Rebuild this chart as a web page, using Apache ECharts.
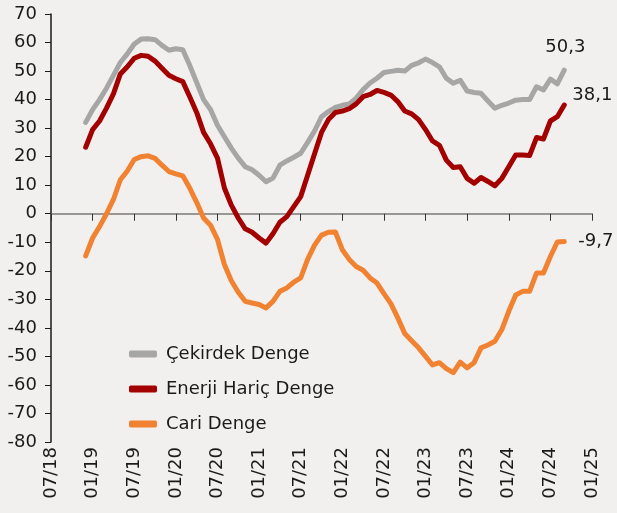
<!DOCTYPE html>
<html>
<head>
<meta charset="utf-8">
<script src="https://cdn.jsdelivr.net/npm/echarts@6/dist/echarts.min.js"></script>
<style>
  html, body { margin: 0; padding: 0; background: #f2f0ef; }
  #chart { width: 617px; height: 513px; }
</style>
</head>
<body>
<div id="chart"></div>
<script>
// monthly axis 07/18 .. 01/25
const months = [];
for (let i = 0; i <= 78; i++) {
  const m = ((6 + i) % 12) + 1;
  const y = 18 + Math.floor((6 + i) / 12);
  months.push(String(m).padStart(2, "0") + "/" + y);
}

// data 12/18 .. 09/24
const lead = 5;
const cekirdek = [32, 36.5, 40, 44, 48.5, 53, 56, 59.5, 61.2, 61.3, 61, 59, 57.3, 57.8, 57.5, 52, 46, 40, 36.5, 31,
  27, 23, 19.5, 16.5, 15.4, 13.5, 11.2, 12.5, 17, 18.5, 19.8, 21.2, 25, 29, 34, 35.8, 37.3, 38, 38.5, 40.5,
  43.5, 45.8, 47.5, 49.5, 49.9, 50.3, 50, 52, 52.9, 54.2, 53, 51.5, 47.5, 45.7, 46.8, 43, 42.5, 42.2, 39.5, 37,
  38, 38.8, 39.8, 40, 40, 44.5, 43.4, 47.2, 45.5, 50.3];
const enerjiHaric = [23.3, 29.5, 32.5, 37, 42, 49, 51.5, 54.5, 55.5, 55.2, 53.5, 51, 48.5, 47.3, 46.3, 41, 35.5, 28.5, 24.5, 19.5,
  9, 3, -1.5, -5.3, -6.5, -8.5, -10.3, -7, -3, -1, 2.5, 6, 13.5, 21, 28.5, 33, 35.5, 36, 36.8, 38.5,
  41, 41.8, 43.2, 42.5, 41.6, 39.3, 36, 35, 33, 29.5, 25.5, 24, 18.8, 16.2, 16.5, 12.4, 10.7, 12.7, 11.3, 9.8,
  12.4, 16.5, 20.6, 20.6, 20.4, 26.7, 26.2, 32.5, 34, 38.1];
const cari = [-14.8, -8.5, -4.5, 0, 5, 11.9, 15, 19, 20, 20.3, 19.4, 17, 14.8, 14, 13.3, 9, 4, -1.5, -4, -9,
  -17.8, -23.5, -27.5, -30.7, -31.3, -31.8, -33, -30.7, -27.2, -26, -24, -22.5, -16, -11, -7.5, -6.5, -6.4, -12.6, -16, -18.5,
  -19.8, -22.5, -24.3, -28, -31.5, -36.5, -42, -44.5, -47, -50, -53, -52.2, -54.3, -55.7, -52, -54, -52.2, -47, -46, -44.7,
  -40.6, -34.2, -28.5, -27.2, -27.2, -20.8, -20.8, -15, -9.9, -9.7];

const pad = arr => Array(lead).fill(null).concat(arr);
const fmt = p => p.value.toFixed(1).replace(".", ",");
const font = "DejaVu Sans";

const chart = echarts.init(document.getElementById("chart"));

function lineSeries(name, data, color, labelOffset) {
  return {
    name: name,
    type: "line",
    data: pad(data),
    showSymbol: false,
    symbol: "none",
    lineStyle: { color: color, width: 5, join: "round", cap: "round" },
    itemStyle: { color: color },
    endLabel: {
      show: true,
      formatter: fmt,
      fontFamily: font,
      fontSize: 18,
      color: "#1a1a1a",
      offset: labelOffset
    }
  };
}

chart.setOption({
  backgroundColor: "#f2f0ef",
  animation: false,
  grid: { left: 51, right: 25, top: 14, bottom: 71 },
  legend: {
    orient: "vertical",
    left: 124,
    top: 340,
    itemWidth: 28,
    itemHeight: 7,
    itemGap: 17,
    icon: "roundRect",
    textStyle: { fontFamily: font, fontSize: 18, color: "#1a1a1a", padding: [0, 0, 0, 4] },
    data: ["Çekirdek Denge", "Enerji Hariç Denge", "Cari Denge"]
  },
  xAxis: [
    {
      type: "category",
      data: months,
      boundaryGap: false,
      axisLine: { onZero: true, lineStyle: { color: "#7a7a7a", width: 1.5 } },
      axisTick: { interval: 5, length: 7, lineStyle: { color: "#333" } },
      axisLabel: { show: false },
      splitLine: { show: false }
    },
    {
      type: "category",
      data: months,
      boundaryGap: false,
      position: "bottom",
      axisLine: { show: false, onZero: false },
      axisTick: { show: false },
      axisLabel: {
        interval: 5,
        rotate: 90,
        margin: 5,
        fontFamily: font,
        fontSize: 18,
        color: "#1a1a1a"
      },
      splitLine: { show: false }
    }
  ],
  yAxis: {
    type: "value",
    min: -80,
    max: 70,
    interval: 10,
    axisLine: { show: true, lineStyle: { color: "#1a1a1a", width: 1.5 } },
    axisTick: { show: true, length: 6, lineStyle: { color: "#1a1a1a" } },
    axisLabel: { margin: 14, fontFamily: font, fontSize: 18, color: "#1a1a1a" },
    splitLine: { show: false }
  },
  series: [
    lineSeries("Çekirdek Denge", cekirdek, "#a6a6a6", [-27, -23]),
    lineSeries("Enerji Hariç Denge", enerjiHaric, "#a30000", [0, -10]),
    lineSeries("Cari Denge", cari, "#f08232", [6, 0])
  ]
});
</script>
</body>
</html>
